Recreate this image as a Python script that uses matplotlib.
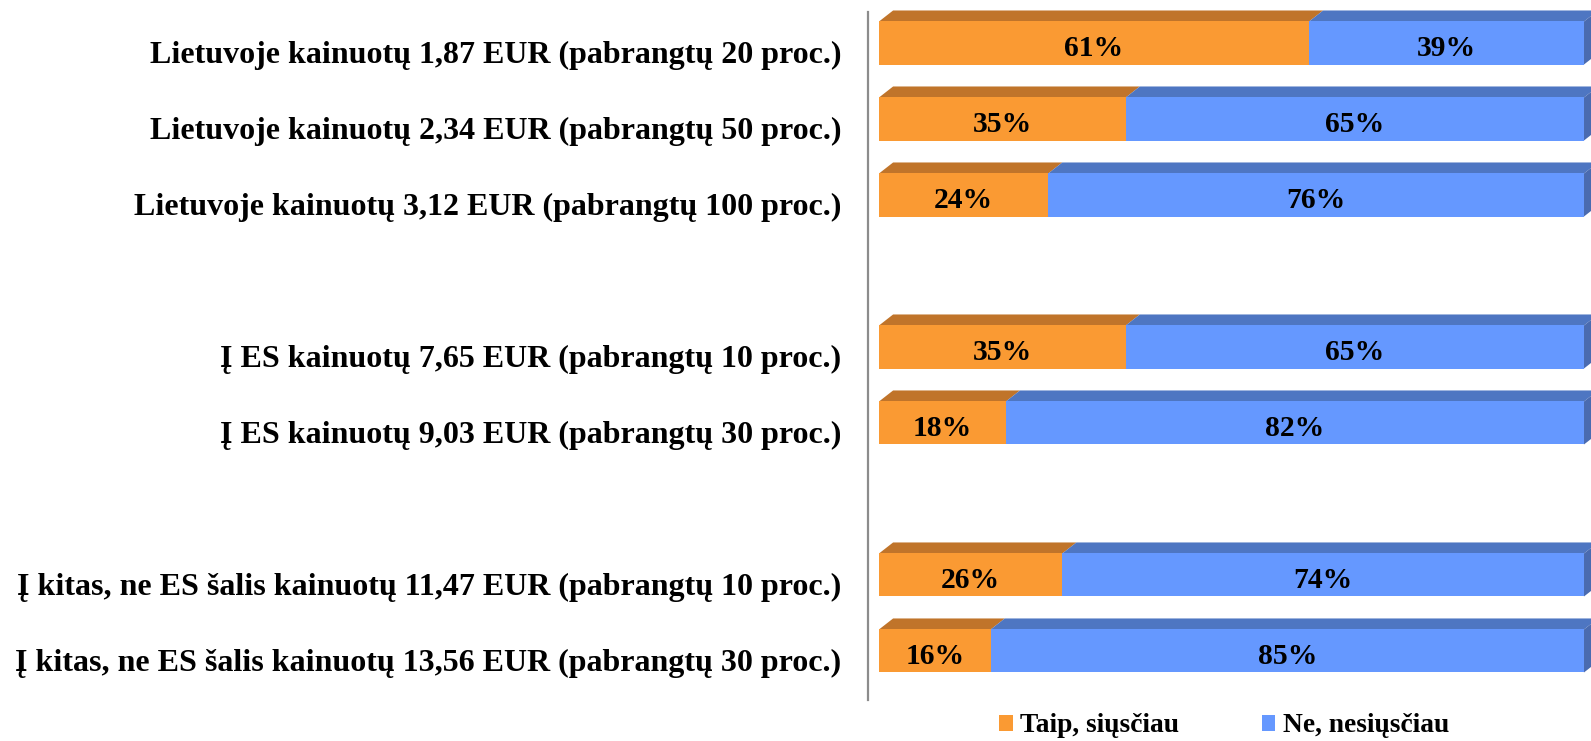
#Horizontal 100% stacked bars with a simple 3D look (front, top and side faces)
import numpy as np
import matplotlib.pyplot as plt
from matplotlib.patches import Polygon, Patch

plt.rcParams['font.family'] = ['Liberation Serif', 'DejaVu Serif']
plt.rcParams['font.weight'] = 'bold'

#data
categories = [
    "Lietuvoje kainuotų 1,87 EUR (pabrangtų 20 proc.)",
    "Lietuvoje kainuotų 2,34 EUR (pabrangtų 50 proc.)",
    "Lietuvoje kainuotų 3,12 EUR (pabrangtų 100 proc.)",
    "Į ES kainuotų 7,65 EUR (pabrangtų 10 proc.)",
    "Į ES kainuotų 9,03 EUR (pabrangtų 30 proc.)",
    "Į kitas, ne ES šalis kainuotų 11,47 EUR (pabrangtų 10 proc.)",
    "Į kitas, ne ES šalis kainuotų 13,56 EUR (pabrangtų 30 proc.)",
]
groups = [0, 0, 0, 1, 1, 2, 2]
taip = [61, 35, 24, 35, 18, 26, 16]
ne = [39, 65, 76, 65, 82, 74, 85]
series_names = ["Taip, siųsčiau", "Ne, nesiųsčiau"]

#colours: front, top, side
front = ["#FA9A33", "#6598FF"]
top = ["#C0742A", "#4E76C2"]
side = ["#4A6BB0"]

W, H = 1591, 741
fig = plt.figure(figsize=(W/100, H/100), dpi=100)
ax = fig.add_axes([868/W, 41/H, 723/W, 688/H])

pos = np.arange(len(categories)) + np.array(groups)
vals = np.array([taip, ne], dtype=float)
share = vals / vals.sum(axis=0) * 100   #Excel 100% stacked normalises
h = 0.566
dx, dy = 2.0, 0.145

ax.set_xlim(-1.56, 101.0)
ax.set_ylim(8.645, -0.408)

left = np.zeros(len(categories))
for s in range(2):
    ax.barh(pos, share[s], left=left, height=h, color=front[s], zorder=3)
    for i, y in enumerate(pos):
        x0, x1 = left[i], left[i] + share[s][i]
        yt = y - h/2
        ax.add_patch(Polygon([(x0, yt), (x1, yt), (x1+dx, yt-dy), (x0+dx, yt-dy)],
                             closed=True, facecolor=top[s], edgecolor='none',
                             zorder=2, clip_on=False))
        ax.text((x0+x1)/2, y + 0.17, f"{vals[s][i]:.0f}%", ha='center', va='baseline',
                fontsize=21.3, fontweight='bold', zorder=5)
    left = left + share[s]

#right side face of each bar
for i, y in enumerate(pos):
    yt, yb = y - h/2, y + h/2
    ax.add_patch(Polygon([(100, yt), (100+dx, yt-dy), (100+dx, yb-dy), (100, yb)],
                         closed=True, facecolor=side[0], edgecolor='none',
                         zorder=2, clip_on=False))

#category labels
for i, y in enumerate(pos):
    ax.annotate(categories[i], xy=(0, y), xycoords=('axes fraction', 'data'),
                xytext=(-27, -20), textcoords='offset pixels',
                ha='right', va='baseline', fontsize=23, fontweight='bold')

ax.set_yticks([])
ax.set_xticks([])
for sp in ['top', 'right', 'bottom']:
    ax.spines[sp].set_visible(False)
ax.spines['left'].set_color('#8C8C8C')
ax.spines['left'].set_linewidth(1.6)

handles = [Patch(facecolor=front[0]), Patch(facecolor=front[1])]
fig.legend(handles, series_names, loc='center', bbox_to_anchor=(1224/W, 15/H),
           ncol=2, frameon=False, handlelength=0.5, handleheight=0.5,
           handletextpad=0.26, columnspacing=3.0, borderpad=0,
           prop={'weight': 'bold', 'size': 19.8})

fig.savefig("out.png", dpi=100)
